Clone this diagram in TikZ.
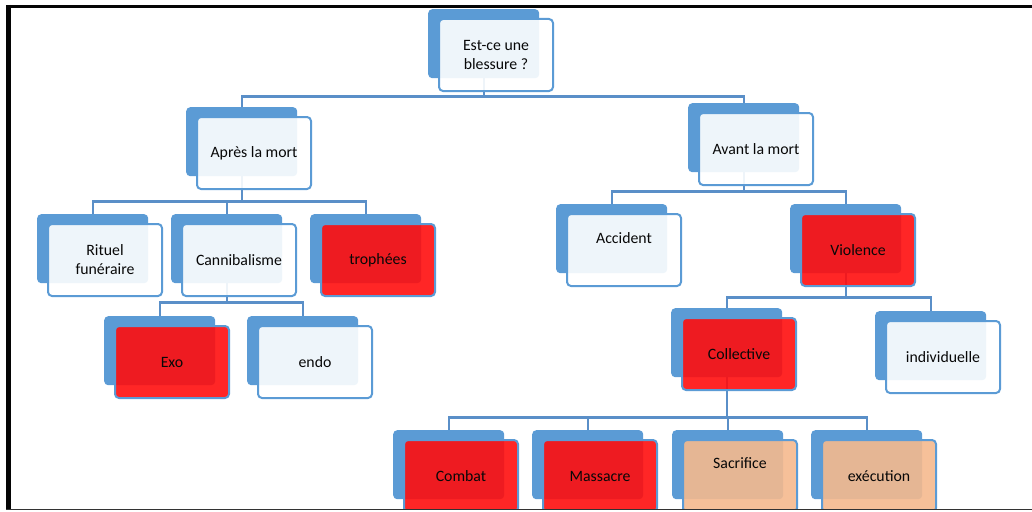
\documentclass[tikz,border=0pt]{standalone}
\usepackage{fontspec}
\setmainfont{Carlito}
\usetikzlibrary{backgrounds,calc}
\definecolor{TreeBlue}{HTML}{5B9BD5}
\definecolor{TreeLine}{HTML}{5A8FC8}
\definecolor{TreeRed}{HTML}{FF0E0E}
\definecolor{TreePeach}{HTML}{F5B98E}
\definecolor{TreeInk}{HTML}{080808}
\definecolor{TreeFrame}{HTML}{050505}
\tikzset{
  tree/back/.style={
    fill=TreeBlue, rounded corners=4pt, inner sep=0pt,
    minimum width=111pt, minimum height=69pt, anchor=north west
  },
  tree/front/.style={
    draw=TreeBlue, line width=2pt, rounded corners=4pt, fill opacity=.9
  },
  tree/plain/.style={tree/front, fill=white},
  tree/hit/.style={tree/front, fill=TreeRed},
  tree/maybe/.style={tree/front, fill=TreePeach},
  tree/label/.style={
    font=\fontsize{15.8}{19}\selectfont, text=TreeInk,
    align=center, inner sep=0pt
  },
  tree/link/.style={draw=TreeLine, line width=2.2pt}
}

\begin{document}
\begin{tikzpicture}[x=1pt,y=-1pt]
  \useasboundingbox (0,0) rectangle (1032,511);
  \newcommand{\orgbox}[6]{%
    \node[tree/back] (#1) at (#2,#3) {};
    \draw[tree/#4] ([xshift=11pt,yshift=-10pt]#1.north west) rectangle ++(114,72);
    \node[tree/label,yshift=#6pt] (#1-text) at ($(#1.north west)+(68,46)$) {#5};}
  \begin{scope}
    \clip (10,8) rectangle (1032,509);
    \orgbox{root}{428}{9}{plain}{Est-ce une\\blessure ?}{0}
    \orgbox{apres}{186}{107}{plain}{Après la mort}{0}
    \orgbox{avant}{688}{103}{plain}{Avant la mort}{0}
    \orgbox{rituel}{37}{214}{plain}{Rituel\\funéraire}{0}
    \orgbox{canni}{171}{214}{plain}{Cannibalisme}{0}
    \orgbox{trophees}{310}{214}{hit}{trophées}{0}
    \orgbox{exo}{104}{316}{hit}{Exo}{0}
    \orgbox{endo}{247}{316}{plain}{endo}{0}
    \orgbox{accident}{556}{204}{plain}{Accident}{12}
    \orgbox{violence}{790}{204}{hit}{Violence}{0}
    \orgbox{collective}{671}{308}{hit}{Collective}{0}
    \orgbox{indiv}{875}{311}{plain}{individuelle}{0}
    \orgbox{combat}{393}{430}{hit}{Combat}{0}
    \orgbox{massacre}{532}{430}{hit}{Massacre}{0}
    \orgbox{sacrifice}{672}{430}{maybe}{Sacrifice}{13}
    \orgbox{execution}{811}{430}{maybe}{exécution}{0}
  \end{scope}
  \begin{scope}[on background layer]
    \draw[tree/link] (root.south) -- ++(0,18) -| (apres.north);
    \draw[tree/link] (root.south) -- ++(0,18) -| (avant.north);
    \foreach \kid in {rituel,canni,trophees}
      \draw[tree/link] (apres.south) -- ++(0,25) -| (\kid.north);
    \foreach \kid in {exo,endo}
      \draw[tree/link] (canni.south) -- ++(0,19) -| (\kid.north);
    \foreach \kid in {accident,violence}
      \draw[tree/link] (avant.south) -- ++(0,19) -| (\kid.north);
    \foreach \kid in {collective,indiv}
      \draw[tree/link] (violence.south) -- ++(0,24) -| (\kid.north);
    \foreach \kid in {combat,massacre,sacrifice,execution}
      \draw[tree/link] (collective.south) -- ++(0,40) -| (\kid.north);
  \end{scope}
  % frame
  \draw[TreeFrame,line width=3pt] (6,6.5) -- (1032,6.5);
  \draw[TreeFrame,line width=4.5pt] (8.5,5) -- (8.5,509);
  \draw[black!80,line width=1.5pt] (6,509.5) -- (1032,509.5);
\end{tikzpicture}
\end{document}
